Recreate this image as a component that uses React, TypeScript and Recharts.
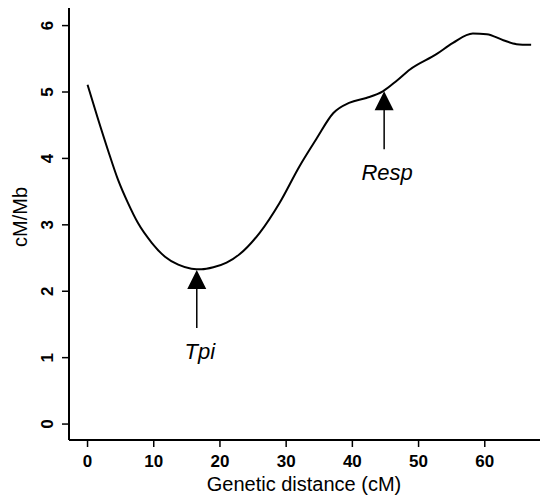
import { Label, LineChart, Line, ReferenceDot, XAxis, YAxis } from 'recharts'

const FONT = '"Liberation Sans", Arial, Helvetica, sans-serif'

// genetic distance (cM) vs recombination rate (cM/Mb)
const DIST = [0, 1.5, 3.1, 4.6, 6.1, 7.6, 9.7, 11.7, 13.7, 15.7, 17.2, 19, 21, 23, 26, 29, 32, 34.6, 37.1, 39.6, 42.1, 44.6, 46.7, 48.7, 52.7, 55.2, 58.2, 60.3, 62.8, 64.8, 67]
const RATE = [5.11, 4.62, 4.12, 3.68, 3.33, 3.03, 2.73, 2.52, 2.4, 2.34, 2.33, 2.36, 2.43, 2.56, 2.88, 3.33, 3.88, 4.3, 4.68, 4.84, 4.91, 5.01, 5.17, 5.34, 5.57, 5.74, 5.88, 5.87, 5.78, 5.72, 5.71]

const X_TICKS = [0, 10, 20, 30, 40, 50, 60]
const Y_TICKS = [0, 1, 2, 3, 4, 5, 6]

const GENES = ['Tpi', 'Resp']
const GENE_POS = [16.5, 44.8]
const GENE_RATE = [2.32, 5.01]

const X_DOMAIN = [-2.8, 69.7]
const Y_DOMAIN = [-0.24, 6.28]

const PLOT = { left: 69, top: 7 }

const data = DIST.map((d, i) => ({ d, r: RATE[i] }))

function YTick(props: any) {
  const { x, y, payload } = props
  const bx = x - 7
  return (
    <text x={bx} y={y} transform={`rotate(-90 ${bx} ${y})`} textAnchor="middle"
      fontSize={17} fontWeight={700} fontFamily={FONT} fill="#000">
      {payload.value}
    </text>
  )
}

function arrowShape(name: string) {
  return (props: any) => {
    const { cx, cy } = props
    return (
      <g>
        <path d={`M${cx},${cy} L${cx + 9.5},${cy + 19} L${cx - 9.5},${cy + 19} Z`} fill="#000" />
        <line x1={cx} y1={cy + 18} x2={cx} y2={cy + 58} stroke="#000" strokeWidth={1.5} />
        <text x={cx + 3} y={cy + 89} textAnchor="middle" fontSize={22} fontStyle="italic"
          fontFamily={FONT} fill="#000">{name}</text>
      </g>
    )
  }
}

export default function App() {
  return (
    <div style={{ position: 'relative', margin: -8, width: 548, height: 504, overflow: 'hidden', background: '#fff' }}>
      <LineChart width={550} height={504} data={data}
        margin={{ top: PLOT.top, right: 1, bottom: 0, left: 0 }}>
        <XAxis dataKey="d" type="number" domain={X_DOMAIN} ticks={X_TICKS} allowDataOverflow
          height={64} tickSize={7} tickMargin={8}
          axisLine={{ stroke: '#000', strokeWidth: 2 }}
          tickLine={{ stroke: '#000', strokeWidth: 1.5 }}
          tick={{ fill: '#000', fontSize: 17, fontWeight: 700, fontFamily: FONT }}>
          <Label content={() => (
            <text x={304} y={491} textAnchor="middle" fontSize={20} fontFamily={FONT} fill="#000">
              Genetic distance (cM)
            </text>
          )} />
        </XAxis>
        <YAxis type="number" domain={Y_DOMAIN} ticks={Y_TICKS} allowDataOverflow
          width={PLOT.left} tickSize={7}
          axisLine={{ stroke: '#000', strokeWidth: 2 }}
          tickLine={{ stroke: '#000', strokeWidth: 1.5 }}
          tick={<YTick />}>
          <Label content={() => (
            <text x={27} y={217} transform="rotate(-90 27 217)" textAnchor="middle" fontSize={20}
              fontFamily={FONT} fill="#000">
              cM/Mb
            </text>
          )} />
        </YAxis>
        <Line type="monotone" dataKey="r" stroke="#000" strokeWidth={2} dot={false}
          isAnimationActive={false} />
        {GENES.map((g, i) => (
          <ReferenceDot key={g} x={GENE_POS[i]} y={GENE_RATE[i]} r={0} shape={arrowShape(g)} />
        ))}
      </LineChart>
      {/* top edge of the R-style plot box */}
      <div style={{ position: 'absolute', left: PLOT.left - 1, top: PLOT.top - 1, width: 490, height: 2, background: '#000' }} />
    </div>
  )
}
